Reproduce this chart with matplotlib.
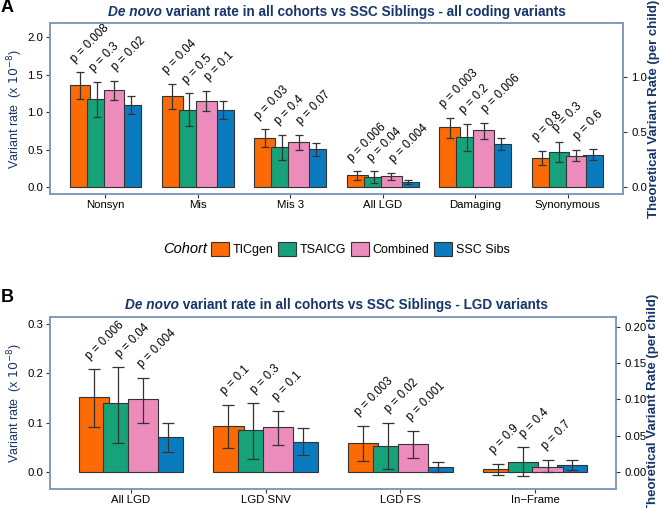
import matplotlib
matplotlib.use("Agg")
import matplotlib.pyplot as plt
from matplotlib.patches import Patch

plt.rcParams['font.family'] = ['Liberation Sans', 'DejaVu Sans']

cohorts = ['TICgen', 'TSAICG', 'Combined', 'SSC Sibs']
colors = ['#fb6a04', '#16a37a', '#ec8cbd', '#0a7bbf']

# panel A: all coding variants (variant rate, x 10^-8)
cats_a = ['Nonsyn', 'Mis', 'Mis 3', 'All LGD', 'Damaging', 'Synonymous']
ticgen_a = [1.36, 1.21, 0.65, 0.155, 0.80, 0.39]
tsaicg_a = [1.17, 1.03, 0.53, 0.13, 0.67, 0.47]
combined_a = [1.29, 1.15, 0.60, 0.147, 0.76, 0.42]
ssc_a = [1.10, 1.03, 0.51, 0.067, 0.58, 0.43]
ticgen_a_lo = [1.18, 1.04, 0.53, 0.09, 0.66, 0.30]
ticgen_a_hi = [1.53, 1.38, 0.77, 0.21, 0.92, 0.48]
tsaicg_a_lo = [0.94, 0.82, 0.36, 0.05, 0.48, 0.33]
tsaicg_a_hi = [1.40, 1.25, 0.70, 0.21, 0.84, 0.60]
combined_a_lo = [1.16, 1.02, 0.50, 0.10, 0.64, 0.35]
combined_a_hi = [1.42, 1.28, 0.70, 0.19, 0.86, 0.50]
ssc_a_lo = [0.98, 0.91, 0.42, 0.036, 0.49, 0.36]
ssc_a_hi = [1.22, 1.15, 0.59, 0.10, 0.66, 0.51]
p_ticgen_a = ['0.008', '0.04', '0.03', '0.006', '0.003', '0.8']
p_tsaicg_a = ['0.3', '0.5', '0.4', '0.04', '0.2', '0.3']
p_combined_a = ['0.02', '0.1', '0.07', '0.004', '0.006', '0.6']

# panel B: LGD variants
cats_b = ['All LGD', 'LGD SNV', 'LGD FS', 'In\u2212Frame']
ticgen_b = [0.151, 0.093, 0.058, 0.0054]
tsaicg_b = [0.139, 0.085, 0.053, 0.021]
combined_b = [0.147, 0.091, 0.056, 0.011]
ssc_b = [0.070, 0.061, 0.0095, 0.0135]
ticgen_b_lo = [0.092, 0.049, 0.022, -0.0054]
ticgen_b_hi = [0.208, 0.136, 0.093, 0.017]
tsaicg_b_lo = [0.058, 0.026, 0.007, -0.008]
tsaicg_b_hi = [0.212, 0.139, 0.099, 0.050]
combined_b_lo = [0.099, 0.054, 0.028, -0.001]
combined_b_hi = [0.191, 0.124, 0.084, 0.024]
ssc_b_lo = [0.041, 0.034, -0.001, 0.0034]
ssc_b_hi = [0.099, 0.089, 0.0197, 0.024]
p_ticgen_b = ['0.006', '0.1', '0.003', '0.9']
p_tsaicg_b = ['0.04', '0.3', '0.02', '0.4']
p_combined_b = ['0.004', '0.1', '0.001', '0.7']

theory_factor = 0.68
navy = '#15356b'
frame = '#7d98bb'
offsets = [-0.276, -0.092, 0.092, 0.276]
bar_w = 0.225
draw_z = [2.0, 2.1, 2.3, 2.2]   # Combined sits on top of SSC Sibs
# p labels are dodged a bit wider than the bars
label_off_a = [-0.313, -0.097, 0.140]
label_off_b = [-0.289, -0.067, 0.096]

W, H = 663, 508
fig = plt.figure(figsize=(W / 100, H / 100), dpi=100)


def px_rect(l, t, r, b):
    return [l / W, 1 - b / H, (r - l) / W, (b - t) / H]


def draw_panel(ax, width_px, cats, vals, los, his, pvals, label_off, ylim,
               yticks, rticks, rfmt, cap, rlab_px):
    for i in range(4):
        xs = [k + offsets[i] for k in range(len(cats))]
        ax.bar(xs, vals[i], width=bar_w, color=colors[i], edgecolor='#333333',
               linewidth=0.8, zorder=draw_z[i])
        yerr = [[v - lo for v, lo in zip(vals[i], los[i])],
                [hi - v for v, hi in zip(vals[i], his[i])]]
        ax.errorbar(xs, vals[i], yerr=yerr, fmt='none', ecolor='#333333',
                    elinewidth=0.9, capsize=cap, capthick=0.9, zorder=4)
        if i < 3:
            for k, (hi, p) in enumerate(zip(his[i], pvals[i])):
                ax.annotate(f'p = {p}', xy=(k + label_off[i], hi),
                            xytext=(0, 5.5), textcoords='offset points',
                            rotation=45, rotation_mode='anchor', ha='left',
                            va='bottom', fontsize=8.3, color='black', zorder=5)
    ax.set_xlim(-0.6, len(cats) - 0.4)
    ax.set_ylim(*ylim)
    ax.set_xticks(range(len(cats)))
    ax.set_xticklabels(cats)
    ax.set_yticks(yticks)
    ax.yaxis.set_major_formatter(plt.FormatStrFormatter(rfmt[0]))
    ax.tick_params(labelsize=8.2, length=3, color='#333333', width=0.8)
    ax.tick_params(axis='x', pad=1.5)
    ax.tick_params(axis='y', pad=2)
    for s in ax.spines.values():
        s.set_color(frame)
        s.set_linewidth(1.1)
    ax.set_ylabel(r'Variant rate  (x $10^{-8}$)', color=navy, fontsize=9,
                  va='center')
    ax.yaxis.set_label_coords(-35 / width_px, 0.5)
    ax2 = ax.twinx()
    ax2.set_ylim(ylim[0] * theory_factor, ylim[1] * theory_factor)
    ax2.set_yticks(rticks)
    ax2.yaxis.set_major_formatter(plt.FormatStrFormatter(rfmt[1]))
    ax2.tick_params(labelsize=8.2, length=3, color='#333333', width=0.8, pad=3)
    for s in ax2.spines.values():
        s.set_color(frame)
        s.set_linewidth(1.1)
    ax2.set_ylabel('Theoretical Variant Rate (per child)', color=navy,
                   fontsize=9.5, fontweight='bold', va='center', rotation=90)
    ax2.yaxis.set_label_coords(1 + rlab_px / width_px, 0.5)
    return ax2


ax_a = fig.add_axes(px_rect(50, 23, 623, 194))
draw_panel(ax_a, 573, cats_a,
           [ticgen_a, tsaicg_a, combined_a, ssc_a],
           [ticgen_a_lo, tsaicg_a_lo, combined_a_lo, ssc_a_lo],
           [ticgen_a_hi, tsaicg_a_hi, combined_a_hi, ssc_a_hi],
           [p_ticgen_a, p_tsaicg_a, p_combined_a], label_off_a,
           (-0.093, 2.187), [0, 0.5, 1.0, 1.5, 2.0], [0, 0.5, 1.0],
           ('%.1f', '%.1f'), 2.6, 31)

ax_b = fig.add_axes(px_rect(50, 317, 616, 489))
draw_panel(ax_b, 566, cats_b,
           [ticgen_b, tsaicg_b, combined_b, ssc_b],
           [ticgen_b_lo, tsaicg_b_lo, combined_b_lo, ssc_b_lo],
           [ticgen_b_hi, tsaicg_b_hi, combined_b_hi, ssc_b_hi],
           [p_ticgen_b, p_tsaicg_b, p_combined_b], label_off_b,
           (-0.0345, 0.314), [0, 0.1, 0.2, 0.3], [0, 0.05, 0.10, 0.15, 0.20],
           ('%.1f', '%.2f'), 4.3, 37)

# panel letters
fig.text(1 / W, 1 - 7 / H, 'A', fontsize=13, fontweight='bold', va='center')
fig.text(1 / W, 1 - 298 / H, 'B', fontsize=13, fontweight='bold', va='center')

# legend
fig.text(207 / W, 1 - 249 / H, 'Cohort', fontsize=10.5, style='italic',
         ha='right', va='center')
handles = [Patch(facecolor=c, edgecolor='#333333', linewidth=0.8) for c in colors]
fig.legend(handles, cohorts, ncol=4, loc='center left',
           bbox_to_anchor=(211 / W, 1 - 249 / H), frameon=False, fontsize=9,
           handlelength=1.45, handleheight=1.3, handletextpad=0.3,
           columnspacing=0.35, borderpad=0, borderaxespad=0)

# titles with italic "De novo"
titles = [('variant rate in all cohorts vs SSC Siblings - all coding variants', 336.5, 12),
          ('variant rate in all cohorts vs SSC Siblings - LGD variants', 336.5, 305)]
fig.canvas.draw()
r = fig.canvas.get_renderer()
for rest, cx, cy in titles:
    t1 = fig.text(0, 1 - cy / H, 'De novo', fontsize=9.85, fontweight='bold',
                  style='italic', color=navy, va='center')
    t2 = fig.text(0, 1 - cy / H, ' ' + rest, fontsize=9.85, fontweight='bold',
                  color=navy, va='center')
    w1 = t1.get_window_extent(r).width
    w2 = t2.get_window_extent(r).width
    x0 = cx - (w1 + w2) / 2
    t1.set_x(x0 / W)
    t2.set_x((x0 + w1) / W)

fig.savefig('out.png', dpi=100)
